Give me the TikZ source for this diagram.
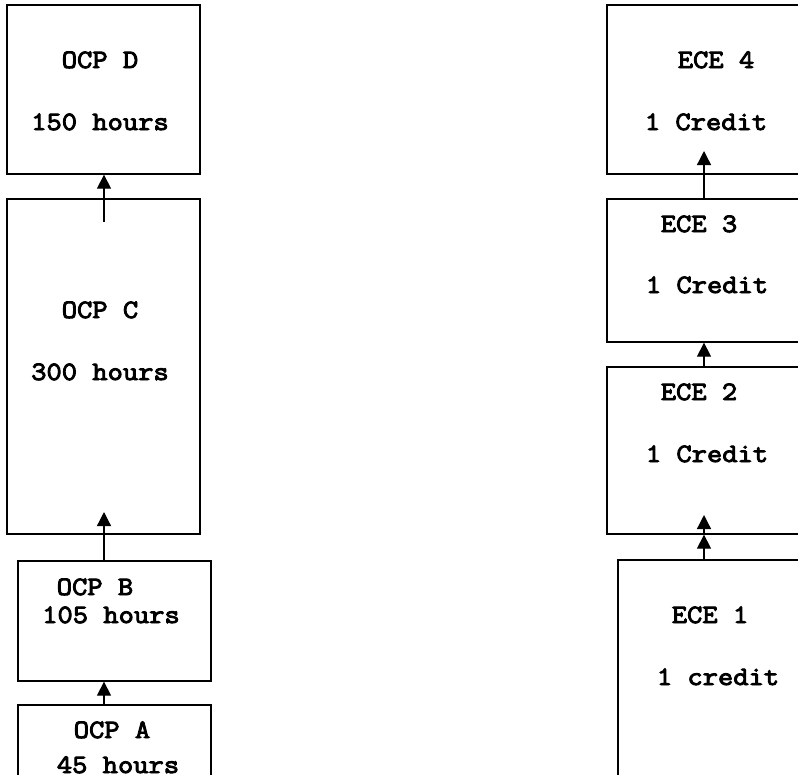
\documentclass[tikz,border=0pt]{standalone}
\usepackage{fontspec}
\newfontfamily\courfont[FakeBold=3.5, FakeStretch=1.12]{Latin Modern Mono}
\usetikzlibrary{arrows.meta, positioning, fit}

\begin{document}
\begin{tikzpicture}[x=1pt, y=-1pt,
    every node/.style={font=\courfont\fontsize{26.5}{30}\selectfont},
    box/.style={draw, line width=1.3pt, inner sep=0pt},
    txt/.style={anchor=base, inner sep=0pt},
    up/.style={line width=1.3pt, -{Triangle[length=14pt, width=14pt]}}]

  \useasboundingbox (0,0) rectangle (798,774);
  \begin{scope}
  \clip (0,0) rectangle (798,774);

  % Left column: OCP boxes
  \node[box, fit={(7,5) (200,174)}]    (ocpD) {};
  \node[box, fit={(7,199) (200,534)}]  (ocpC) {};
  \node[box, fit={(18,561) (211,681)}] (ocpB) {};
  \node[box, fit={(18,705) (211,800)}] (ocpA) {};

  \node[txt] (ocpDname)  at (100,68)  {OCP D};
  \node[txt] (ocpDhours) at (100,130) {150 hours};
  \node[txt] (ocpCname)  at (100,318) {OCP C};
  \node[txt] (ocpChours) at (100,380) {300 hours};
  \node[txt] (ocpBname)  at (95,595)  {OCP B};
  \node[txt] (ocpBhours) at (111,623) {105 hours};
  \node[txt] (ocpAname)  at (112,738) {OCP A};
  \node[txt] (ocpAhours) at (118,773) {45 hours};

  % Right column: ECE boxes
  \node[box, fit={(607,5) (815,174)}]   (ece4) {};
  \node[box, fit={(607,199) (815,342)}] (ece3) {};
  \node[box, fit={(607,367) (815,534)}] (ece2) {};
  \node[box, fit={(618,560) (815,800)}] (ece1) {};

  \node[txt] (ece4name) at (716,68)  {ECE 4};
  \node[txt] (ece4cr)   at (706,130) {1 Credit};
  \node[txt] (ece3name) at (699,232) {ECE 3};
  \node[txt] (ece3cr)   at (707,293) {1 Credit};
  \node[txt] (ece2name) at (699,400) {ECE 2};
  \node[txt] (ece2cr)   at (707,462) {1 Credit};
  \node[txt] (ece1name) at (710,623) {ECE 1};
  \node[txt] (ece1cr)   at (718,685) {1 credit};
  \end{scope}

  % Arrows
  \coordinate (ocpCin) at (104,222);
  \coordinate (ocpBup) at (104,512);
  \coordinate (ece4in) at (704,151);
  \coordinate (ece2in) at (704,515);

  \draw[up] (ocpCin) -- (ocpCin |- ocpD.south);
  \draw[up] (ocpB.north -| ocpBup) -- (ocpBup);
  \draw[up] (ocpA.north -| ocpBup) -- (ocpB.south -| ocpBup);

  \draw[up] (ece3.north -| ece4in) -- (ece4in);
  \draw[up] (ece2.north -| ece4in) -- (ece3.south -| ece4in);
  \draw[up] (ece1.north -| ece4in) -- (ece2.south -| ece4in);
  \draw[up] (ece2.south -| ece2in) -- (ece2in);
\end{tikzpicture}
\end{document}
